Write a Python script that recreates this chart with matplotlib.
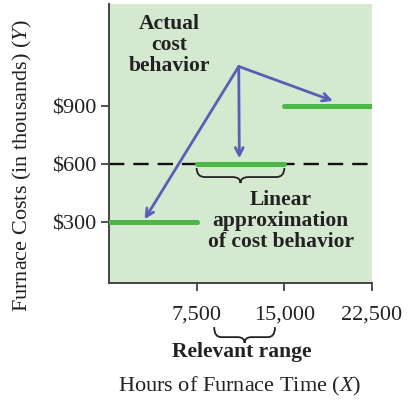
import numpy as np
import matplotlib
matplotlib.use("Agg")
import matplotlib.pyplot as plt
from matplotlib.path import Path
from matplotlib.patches import PathPatch
import matplotlib.transforms as mtransforms

plt.rcParams['font.family'] = ['Liberation Serif', 'DejaVu Serif']
plt.rcParams['mathtext.fontset'] = 'custom'
plt.rcParams['mathtext.rm'] = 'Liberation Serif'
plt.rcParams['mathtext.it'] = 'Liberation Serif:italic'

# cost steps (linear approximation) per range of furnace hours
step_starts = [0, 7500, 15000]
step_ends = [7500, 15000, 22500]
step_costs = [300, 600, 900]

# where the "actual cost behavior" label points from / to
label_point = (11100, 1105)
arrow_targets = [(3050, 315), (11150, 630), (19150, 927)]

x_ticks = [7500, 15000, 22500]
x_tick_labels = ['7,500', '15,000', '22,500']
y_ticks = [300, 600, 900]
y_tick_labels = ['$300', '$600', '$900']
relevant_range = (9000, 14200)

bg = '#d5e8d0'
green = '#4cb848'
blue = '#5a5fb5'
dark = '#222222'


def brace(ax, x0, x1, ytop, ymid, ytip, r, transform, lw=1.3):
    xm = (x0 + x1) / 2
    verts = [(x0, ytop), (x0, ymid), (x0 + r, ymid),
             (xm - r, ymid), (xm, ymid), (xm, ytip),
             (xm, ymid), (xm + r, ymid),
             (x1 - r, ymid), (x1, ymid), (x1, ytop)]
    codes = [Path.MOVETO, Path.CURVE3, Path.CURVE3,
             Path.LINETO, Path.CURVE3, Path.CURVE3,
             Path.CURVE3, Path.CURVE3,
             Path.LINETO, Path.CURVE3, Path.CURVE3]
    patch = PathPatch(Path(verts, codes), fc='none', ec=dark, lw=lw,
                      transform=transform, clip_on=False)
    ax.add_patch(patch)


fig = plt.figure(figsize=(4.12, 4.0), dpi=100)
ax = fig.add_axes([109 / 412, 1 - 283 / 400, 263 / 412, 279 / 400])
ax.set_facecolor(bg)
ax.set_xlim(0, 22500)
ax.set_ylim(-15, 1428)

for s in ['top', 'right']:
    ax.spines[s].set_visible(False)
for s in ['left', 'bottom']:
    ax.spines[s].set_color('#444444')
    ax.spines[s].set_linewidth(1.4)

ax.set_xticks(x_ticks)
ax.set_xticklabels(x_tick_labels)
ax.set_yticks(y_ticks)
ax.set_yticklabels(y_tick_labels)
ax.tick_params(axis='both', direction='out', length=6, width=1.3,
               color='#444444', labelsize=16, labelcolor=dark)
ax.tick_params(axis='x', pad=10)
ax.tick_params(axis='y', pad=3)

ax.axhline(600, color='#111111', lw=1.7, dashes=(6.5, 3.8), zorder=2)

for x0, x1, c in zip(step_starts, step_ends, step_costs):
    ax.plot([x0, x1], [c, c], color=green, lw=3.6, solid_capstyle='round',
            zorder=3)

for tx, ty in arrow_targets:
    ax.annotate('', xy=(tx, ty), xytext=label_point,
                arrowprops=dict(arrowstyle='->,head_length=0.55,head_width=0.28',
                                color=blue, lw=2.0, shrinkA=0, shrinkB=0),
                zorder=4)

ax.text(5150, 1215, 'Actual\ncost\nbehavior', ha='center', va='center',
        fontsize=15.5, fontweight='bold', color=dark, linespacing=1.08)
ax.text(14700, 305, 'Linear\napproximation\nof cost behavior', ha='center',
        va='center', fontsize=15.5, fontweight='bold', color=dark,
        linespacing=1.08)

# brace under the middle step
brace(ax, step_starts[1], step_ends[1], 580, 533, 502, 700, ax.transData)

# brace under the x tick labels marking the relevant range
blend = mtransforms.blended_transform_factory(ax.transData, ax.transAxes)
brace(ax, relevant_range[0], relevant_range[1], -0.158, -0.194, -0.215, 600,
      blend)

fig.text(242 / 412, 1 - 352 / 400, 'Relevant range', ha='center',
         va='center', fontsize=15.5, fontweight='bold', color=dark)
fig.text(240 / 412, 1 - 386 / 400, 'Hours of Furnace Time ($X$)',
         ha='center', va='center', fontsize=16, color=dark)
fig.text(22 / 412, 1 - 166 / 400, 'Furnace Costs (in thousands) ($Y$)',
         ha='center', va='center', rotation=90, fontsize=16, color=dark)

fig.savefig('out.png', dpi=100)
